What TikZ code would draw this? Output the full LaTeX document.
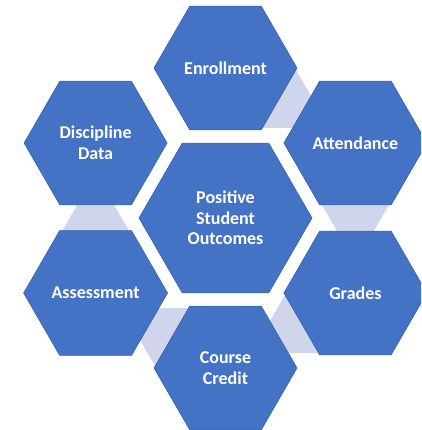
\documentclass[tikz,border=0pt]{standalone}
\usepackage{fontspec}
\setmainfont{Carlito}
\usetikzlibrary{shapes.geometric}
\definecolor{hexblue}{HTML}{4472C4}
\definecolor{hexedge}{HTML}{3862AE}
\definecolor{trifill}{HTML}{CFD5EA}
\begin{document}
\begin{tikzpicture}[x=1pt,y=-1pt,
  hexo/.style={regular polygon, regular polygon sides=6, minimum size=143pt,
    inner sep=0pt, fill=hexblue, draw=hexedge, line width=0.6pt, text=white,
    font=\bfseries\fontsize{18}{20.5}\selectfont, align=center},
  hexc/.style={hexo, minimum size=173pt},
  triup/.style={regular polygon, regular polygon sides=3, minimum size=90pt,
    inner sep=0pt, fill=trifill, draw=none},
  tridown/.style={triup, shape border rotate=180}]
\useasboundingbox (0,0) rectangle (421,430);
\clip (0,0) rectangle (421,430);
% connectors
\node[tridown] (t1) at (355.4,218) {};
\node[triup]   (t2) at (290.5,105.5) {};
\node[tridown] (t3) at (160.5,330.5) {};
\node[triup]   (t4) at (95.6,218) {};
\node[triup]   (t5) at (290.5,330.5) {};
% hexagons
\node[hexo] (enr) at (225.5,68) {Enrollment};
\node[hexo] (att) at (355.4,143) {Attendance};
\node[hexo] (gra) at (355.4,293) {Grades};
\node[hexo] (cou) at (225.5,368) {Course\\Credit};
\node[hexo] (ass) at (95.6,293) {Assessment};
\node[hexo] (dis) at (95.6,143) {Discipline\\Data};
\node[hexc] (cen) at (225.5,218) {Positive\\Student\\Outcomes};
\end{tikzpicture}
\end{document}
